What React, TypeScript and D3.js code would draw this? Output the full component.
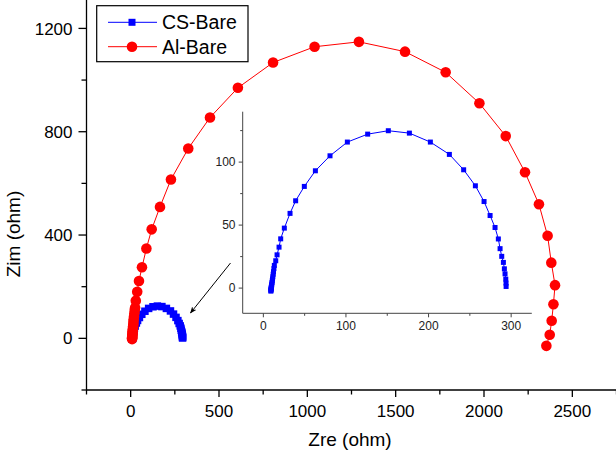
import React from "react";
import * as d3 from "d3";

const csBareX = [9.1, 9.2, 9.3, 9.4, 9.5, 9.6, 9.8, 10, 10.2, 10.5, 10.8, 11.1, 11.5, 11.9, 12.3, 12.8, 13.3, 15, 16.6, 19, 21, 25.4, 32.3, 39.1, 49.6, 63, 80.7, 101.7, 126.3, 151.3, 176.8, 202.2, 225.2, 242.5, 256.7, 267.2, 274.5, 280.5, 284.5, 286.6, 288.6, 290.6, 291.8, 292.6, 293.5, 293.8, 293.9];
const csBareY = [-2.4, -1.8, -1.2, -0.6, 0, 0.6, 1.3, 2.2, 3.2, 4.4, 5.8, 7.3, 9, 11, 13, 15.5, 18, 21.7, 26.4, 32.5, 39.1, 47.6, 59.3, 69.3, 80.7, 93.1, 105, 115.9, 122.2, 124.9, 123, 115.9, 106.1, 93.9, 81.2, 68.7, 57.6, 48.1, 39, 31.3, 25.2, 20.4, 15.3, 11.3, 7.1, 4, 1.3];

const alBareX = [8, 8, 8.5, 9, 9.5, 10, 10.5, 11, 12, 13, 14, 15, 16, 17, 19, 21, 23, 25, 29, 37, 47, 64, 89, 119, 166, 228, 326, 449, 607, 806, 1041, 1292, 1553, 1783, 1974, 2123, 2232, 2311, 2360, 2381, 2402, 2393, 2383, 2372, 2353];
const alBareY = [-3, 0, 3, 7, 11, 16, 21, 27, 33, 40, 47, 55, 64, 74, 85, 97, 110, 118, 146, 180, 222, 275, 348, 422, 509, 615, 735, 855, 970, 1068, 1129, 1148, 1110, 1030, 910, 783, 643, 519, 397, 293, 206, 132, 68, 14, -29];

const mainXTicks = [0, 500, 1000, 1500, 2000, 2500];
const mainXMinor = [-250, 250, 750, 1250, 1750, 2250, 2750];
const mainYTicks = [0, 400, 800, 1200];
const mainYMinor = [-200, 200, 600, 1000];
const insetXTicks = [0, 100, 200, 300];
const insetXMinor = [50, 150, 250];
const insetYTicks = [0, 50, 100];
const insetYMinor = [25, 75, 125];

const seriesNames = ["CS-Bare", "Al-Bare"];
const xTitle = "Zre (ohm)";
const yTitle = "Zim (ohm)";

const FONT = "'Liberation Sans', Arial, sans-serif";

export default function App() {
  const x = d3.scaleLinear().domain([-250, 2750]).range([86.5, 616.5]);
  const y = d3.scaleLinear().domain([-200, 1310]).range([390, 0]);
  const ix = d3.scaleLinear().domain([-25, 325]).range([242.7, 531.8]);
  const iy = d3.scaleLinear().domain([-20, 140]).range([313.3, 111.7]);

  const cs = csBareX.map((v, i) => [v, csBareY[i]] as [number, number]);
  const al = alBareX.map((v, i) => [v, alBareY[i]] as [number, number]);

  const mainLine = d3.line<[number, number]>().x((d) => x(d[0])).y((d) => y(d[1]));
  const insetLine = d3.line<[number, number]>().x((d) => ix(d[0])).y((d) => iy(d[1]));

  const blue = "#0000ff";
  const red = "#ff0000";
  const axisY = 390;
  const axisX = 86.5;

  return (
    <svg width={616} height={452} style={{ position: "absolute", left: 0, top: 0, background: "#fff" }} fontFamily={FONT}>
      <defs>
        <marker id="ah" viewBox="0 0 10 10" refX="9" refY="5" markerWidth="7" markerHeight="7" orient="auto">
          <path d="M0,1 L10,5 L0,9 L3,5 Z" fill="#000" />
        </marker>
      </defs>
      <rect width={616} height={452} fill="#fff" />
      {/* main axes */}
      <line x1={axisX} x2={axisX} y1={0} y2={axisY} stroke="#000" strokeWidth={1.3} />
      <line x1={axisX} x2={616} y1={axisY} y2={axisY} stroke="#000" strokeWidth={1.3} />
      {mainYTicks.map((t) => (
        <g key={"yt" + t}>
          <line x1={axisX - 8} x2={axisX} y1={y(t)} y2={y(t)} stroke="#000" strokeWidth={1.3} />
          <text x={axisX - 14} y={y(t)} dy="0.36em" textAnchor="end" fontSize={17}>{t}</text>
        </g>
      ))}
      {mainYMinor.map((t) => (
        <line key={"ym" + t} x1={axisX - 5} x2={axisX} y1={y(t)} y2={y(t)} stroke="#000" strokeWidth={1.3} />
      ))}
      {mainXTicks.map((t) => (
        <g key={"xt" + t}>
          <line x1={x(t)} x2={x(t)} y1={axisY} y2={axisY + 7} stroke="#000" strokeWidth={1.3} />
          <text x={x(t)} y={axisY + 27} textAnchor="middle" fontSize={17}>{t}</text>
        </g>
      ))}
      {mainXMinor.map((t) => (
        <line key={"xm" + t} x1={x(t)} x2={x(t)} y1={axisY} y2={axisY + 4.5} stroke="#000" strokeWidth={1.3} />
      ))}
      <text x={350} y={446} textAnchor="middle" fontSize={19}>{xTitle}</text>
      <text transform={`translate(20,234) rotate(-90)`} textAnchor="middle" fontSize={19}>{yTitle}</text>

      {/* main series */}
      <path d={mainLine(cs) || ""} fill="none" stroke={blue} strokeWidth={1} />
      {cs.map((d, i) => (
        <rect key={"cs" + i} x={x(d[0]) - 3.75} y={y(d[1]) - 3.75} width={7.5} height={7.5} fill={blue} />
      ))}
      <path d={mainLine(al) || ""} fill="none" stroke={red} strokeWidth={1} />
      {al.map((d, i) => (
        <circle key={"al" + i} cx={x(d[0])} cy={y(d[1])} r={5.3} fill={red} />
      ))}

      {/* legend */}
      <rect x={96.7} y={5.7} width={151.3} height={56} fill="#fff" stroke="#000" strokeWidth={1.2} />
      <line x1={108} x2={157} y1={22.3} y2={22.3} stroke={blue} strokeWidth={1} />
      <rect x={132 - 3.5} y={22.3 - 3.5} width={7} height={7} fill={blue} />
      <text x={162} y={22.3} dy="0.36em" fontSize={19.5}>{seriesNames[0]}</text>
      <line x1={108} x2={157} y1={46.7} y2={46.7} stroke={red} strokeWidth={1} />
      <circle cx={132} cy={46.7} r={5.3} fill={red} />
      <text x={162} y={46.7} dy="0.36em" fontSize={19.5}>{seriesNames[1]}</text>

      {/* arrow */}
      <line x1={230.5} y1={263} x2={190.5} y2={313} stroke="#000" strokeWidth={1} markerEnd="url(#ah)" />

      {/* inset axes */}
      <line x1={242.7} x2={242.7} y1={111.7} y2={313.3} stroke="#444" strokeWidth={1} />
      <line x1={242.7} x2={531.8} y1={313.3} y2={313.3} stroke="#444" strokeWidth={1} />
      {insetYTicks.map((t) => (
        <g key={"iyt" + t}>
          <line x1={242.7 - 4} x2={242.7} y1={iy(t)} y2={iy(t)} stroke="#444" strokeWidth={1} />
          <text x={235.5} y={iy(t)} dy="0.36em" textAnchor="end" fontSize={12} fill="#222">{t}</text>
        </g>
      ))}
      {insetYMinor.map((t) => (
        <line key={"iym" + t} x1={242.7 - 2.5} x2={242.7} y1={iy(t)} y2={iy(t)} stroke="#444" strokeWidth={1} />
      ))}
      {insetXTicks.map((t) => (
        <g key={"ixt" + t}>
          <line x1={ix(t)} x2={ix(t)} y1={313.3} y2={317.3} stroke="#444" strokeWidth={1} />
          <text x={ix(t)} y={330} textAnchor="middle" fontSize={12} fill="#222">{t}</text>
        </g>
      ))}
      {insetXMinor.map((t) => (
        <line key={"ixm" + t} x1={ix(t)} x2={ix(t)} y1={313.3} y2={315.8} stroke="#444" strokeWidth={1} />
      ))}
      <path d={insetLine(cs) || ""} fill="none" stroke={blue} strokeWidth={1} />
      {cs.map((d, i) => (
        <rect key={"ics" + i} x={ix(d[0]) - 2.5} y={iy(d[1]) - 2.5} width={5} height={5} fill={blue} />
      ))}
    </svg>
  );
}
